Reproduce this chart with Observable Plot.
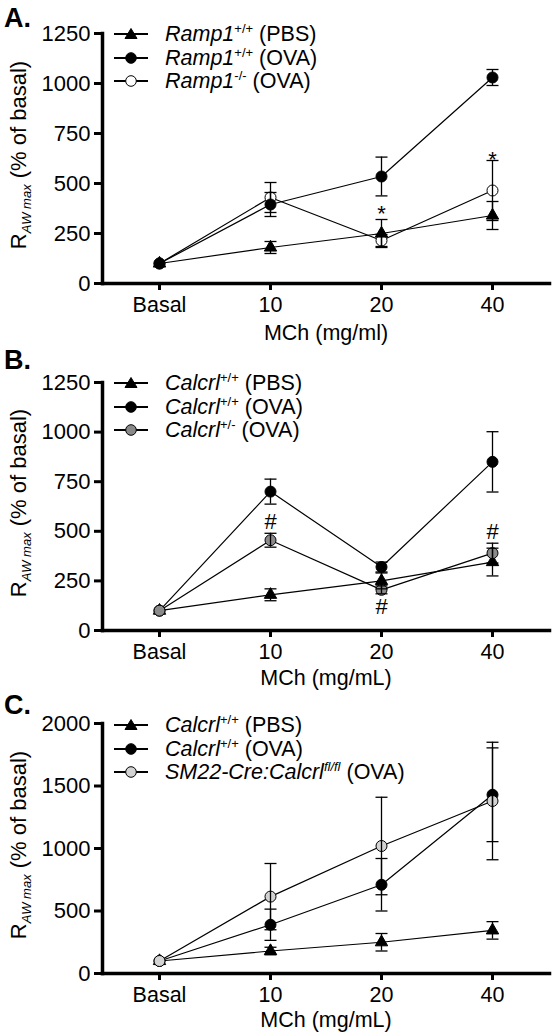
<!DOCTYPE html>
<html>
<head>
<meta charset="utf-8">
<script src="https://cdn.jsdelivr.net/npm/d3@7"></script>
<script src="https://cdn.jsdelivr.net/npm/@observablehq/plot@0.6"></script>
<style>
  html, body { margin: 0; padding: 0; background: #fff; }
  #root { position: relative; width: 558px; height: 1036px; overflow: hidden;
          font-family: "Liberation Sans", Arial, Helvetica, sans-serif; color: #000; }
  .panel { position: absolute; left: 0; width: 558px; }
  .panel > svg { position: absolute; left: 0; top: 0; }
  .letter { position: absolute; left: 4px; font-weight: bold; font-size: 27px; line-height: 27px; }
  .ylab { position: absolute; font-size: 22px; line-height: 24px; height: 24px; width: 300px;
          text-align: center; white-space: nowrap; transform: rotate(-90deg); }
  .ylab sub { font-size: 13px; vertical-align: -5px; line-height: 0; font-style: italic; }
  .leg { position: absolute; left: 114px; font-size: 21.5px; line-height: 24px; height: 24px;
         white-space: nowrap; display: flex; align-items: center; }
  .leg svg { position: static; margin-right: 17px; }
  .leg sup { font-size: 13px; vertical-align: 8px; line-height: 0; }
</style>
</head>
<body>
<div id="root"></div>
<script>
// ---------- data ----------
const categories = ["Basal", "10", "20", "40"];

// Panel A
const aPbsMean = [100, 180, 250, 340];
const aPbsErr  = [0, 30, 70, 70];
const aOvaMean = [100, 395, 535, 1030];
const aOvaErr  = [0, 60, 97, 40];
const aKoMean  = [100, 430, 215, 465];
const aKoErr   = [0, 75, 30, 150];
const aMarkCats = ["20", "40"];
const aMarkY    = [380, 650];
const aMarkText = ["*", "*"];

// Panel B
const bPbsMean = [100, 180, 250, 345];
const bPbsErr  = [0, 30, 40, 70];
const bOvaMean = [100, 700, 320, 850];
const bOvaErr  = [0, 63, 25, 152];
const bHetMean = [100, 455, 205, 390];
const bHetErr  = [0, 35, 20, 50];
const bMarkCats = ["10", "20", "40"];
const bMarkY    = [554, 126, 504];
const bMarkText = ["#", "#", "#"];

// Panel C
const cPbsMean = [100, 180, 250, 345];
const cPbsErr  = [0, 30, 70, 70];
const cOvaMean = [100, 390, 710, 1430];
const cOvaErr  = [0, 125, 210, 375];
const cFlMean  = [100, 615, 1020, 1380];
const cFlErr   = [0, 265, 390, 470];

const ticksA = [0, 250, 500, 750, 1000, 1250];
const ticksC = [0, 500, 1000, 1500, 2000];

// ---------- helpers ----------
const FONT = '"Liberation Sans", Arial, Helvetica, sans-serif';

// horizontal cap symbol for error bars
const capSymbol = {
  draw(context, size) {
    const r = Math.sqrt(size / Math.PI);
    context.moveTo(-r, 0);
    context.lineTo(r, 0);
  }
};

function rows(mean, err) {
  return categories.map((c, i) => ({cat: c, mean: mean[i], err: err[i]}));
}

function dotMark(s) {
  return Plot.dot(rows(s.mean, s.err), {x: "cat", y: "mean", symbol: s.symbol, fill: s.fill, stroke: "#000",
    strokeWidth: 1, r: s.symbol === "triangle" ? 4.6 : 5.5});
}

function errorMarks(s) {
  const e = rows(s.mean, s.err).filter(r => r.err > 0);
  return [
    Plot.ruleX(e, {x: "cat", y1: r => r.mean - r.err, y2: r => r.mean + r.err, stroke: "#000", strokeWidth: 1.3}),
    Plot.dot(e, {x: "cat", y: r => r.mean + r.err, symbol: capSymbol, r: 6, fill: "none", stroke: "#000", strokeWidth: 1.3}),
    Plot.dot(e, {x: "cat", y: r => r.mean - r.err, symbol: capSymbol, r: 6, fill: "none", stroke: "#000", strokeWidth: 1.3})
  ];
}

function lineMark(mean) {
  return Plot.line(rows(mean, mean.map(() => 0)), {x: "cat", y: "mean", stroke: "#000", strokeWidth: 1.2});
}

function legendIcon(symbol, fill) {
  const ns = "http://www.w3.org/2000/svg";
  const s = document.createElementNS(ns, "svg");
  s.setAttribute("width", 34); s.setAttribute("height", 18);
  const l = document.createElementNS(ns, "line");
  l.setAttribute("x1", 0); l.setAttribute("x2", 34); l.setAttribute("y1", 9); l.setAttribute("y2", 9);
  l.setAttribute("stroke", "#000"); l.setAttribute("stroke-width", 2);
  s.appendChild(l);
  let m;
  if (symbol === "triangle") {
    m = document.createElementNS(ns, "path");
    m.setAttribute("d", "M17,3.5 L23,13.5 L11,13.5 Z");
  } else {
    m = document.createElementNS(ns, "circle");
    m.setAttribute("cx", 17); m.setAttribute("cy", 9); m.setAttribute("r", 5.3);
  }
  m.setAttribute("fill", fill); m.setAttribute("stroke", "#000"); m.setAttribute("stroke-width", 1);
  s.appendChild(m);
  return s;
}

function panel(cfg) {
  const root = document.getElementById("root");
  const div = document.createElement("div");
  div.className = "panel";
  div.style.top = cfg.top + "px";
  div.style.height = cfg.height + "px";
  root.appendChild(div);

  const marks = [
    ...cfg.series.map(s => lineMark(s.mean)),
    ...cfg.dotOrder.map(i => dotMark(cfg.series[i])),
    ...cfg.series.flatMap(s => errorMarks(s)),
    Plot.axisY({ticks: cfg.ticks, tickSize: 8, tickPadding: 4, tickFormat: d3.format("d"),
                fontSize: 22, strokeWidth: 3, label: null}),
    Plot.axisX({tickSize: 7, tickPadding: 6, fontSize: 21.5, strokeWidth: 3,
                label: cfg.xLabel, labelAnchor: "center", labelOffset: cfg.labelOffset}),
    Plot.frame({anchor: "left", strokeWidth: 3.5}),
    Plot.frame({anchor: "bottom", strokeWidth: 3.5})
  ];
  if (cfg.marks) {
    const md = cfg.marks.cats.map((c, i) => ({cat: c, y: cfg.marks.y[i], t: cfg.marks.text[i]}));
    marks.push(Plot.text(md, {x: "cat", y: "y", text: "t", fontSize: 22, fill: "#000",
                              dy: cfg.marks.text[0] === "*" ? 6 : 1}));
  }

  const svg = Plot.plot({
    width: 558,
    height: cfg.height,
    marginLeft: 102,
    marginRight: 9,
    marginTop: cfg.marginTop,
    marginBottom: cfg.marginBottom,
    style: {fontFamily: FONT, fontSize: "21px", background: "transparent", overflow: "visible", color: "#000"},
    x: {type: "point", domain: categories, padding: 0.5},
    y: {domain: cfg.yDomain},
    marks
  });
  div.appendChild(svg);

  const let_ = document.createElement("div");
  let_.className = "letter";
  let_.style.top = cfg.letterTop + "px";
  let_.textContent = cfg.letter;
  div.appendChild(let_);

  const yl = document.createElement("div");
  yl.className = "ylab";
  const plotCenter = cfg.marginTop + (cfg.height - cfg.marginTop - cfg.marginBottom) / 2 - 3;
  yl.style.left = (19 - 150) + "px";
  yl.style.top = (plotCenter - 12) + "px";
  yl.innerHTML = "R<sub>AW max</sub> (% of basal)";
  div.appendChild(yl);

  cfg.series.forEach((s, i) => {
    const row = document.createElement("div");
    row.className = "leg";
    row.style.top = (cfg.legendTop + i * 23.5 - 12) + "px";
    row.appendChild(legendIcon(s.symbol, s.fill));
    const t = document.createElement("span");
    t.innerHTML = s.label;
    row.appendChild(t);
    div.appendChild(row);
  });
}

panel({
  letter: "A.", top: 0, height: 345, marginTop: 33, marginBottom: 62, letterTop: 5, legendTop: 34,
  labelOffset: 56, dotOrder: [2, 0, 1],
  yDomain: [0, 1250], ticks: ticksA, xLabel: "MCh (mg/ml)",
  series: [
    {mean: aPbsMean, err: aPbsErr, symbol: "triangle", fill: "#000", label: "<i>Ramp1</i><sup>+/+</sup> (PBS)"},
    {mean: aOvaMean, err: aOvaErr, symbol: "circle", fill: "#000", label: "<i>Ramp1</i><sup>+/+</sup> (OVA)"},
    {mean: aKoMean, err: aKoErr, symbol: "circle", fill: "#fff", label: "<i>Ramp1</i><sup>-/-</sup> (OVA)"}
  ],
  marks: {cats: aMarkCats, y: aMarkY, text: aMarkText}
});

panel({
  letter: "B.", top: 340, height: 345, marginTop: 42, marginBottom: 55, letterTop: 7, legendTop: 43,
  labelOffset: 54, dotOrder: [0, 1, 2],
  yDomain: [0, 1250], ticks: ticksA, xLabel: "MCh (mg/mL)",
  series: [
    {mean: bPbsMean, err: bPbsErr, symbol: "triangle", fill: "#000", label: "<i>Calcrl</i><sup>+/+</sup> (PBS)"},
    {mean: bOvaMean, err: bOvaErr, symbol: "circle", fill: "#000", label: "<i>Calcrl</i><sup>+/+</sup> (OVA)"},
    {mean: bHetMean, err: bHetErr, symbol: "circle", fill: "#8a8a8a", label: "<i>Calcrl</i><sup>+/-</sup> (OVA)"}
  ],
  marks: {cats: bMarkCats, y: bMarkY, text: bMarkText}
});

panel({
  letter: "C.", top: 680, height: 356, marginTop: 43, marginBottom: 63, letterTop: 12, legendTop: 45,
  labelOffset: 53, dotOrder: [0, 1, 2],
  yDomain: [0, 2000], ticks: ticksC, xLabel: "MCh (mg/mL)",
  series: [
    {mean: cPbsMean, err: cPbsErr, symbol: "triangle", fill: "#000", label: "<i>Calcrl</i><sup>+/+</sup> (PBS)"},
    {mean: cOvaMean, err: cOvaErr, symbol: "circle", fill: "#000", label: "<i>Calcrl</i><sup>+/+</sup> (OVA)"},
    {mean: cFlMean, err: cFlErr, symbol: "circle", fill: "#d3d3d3", label: "<i>SM22-Cre:Calcrl</i><sup><i>fl/fl</i></sup> (OVA)"}
  ]
});
</script>
</body>
</html>
